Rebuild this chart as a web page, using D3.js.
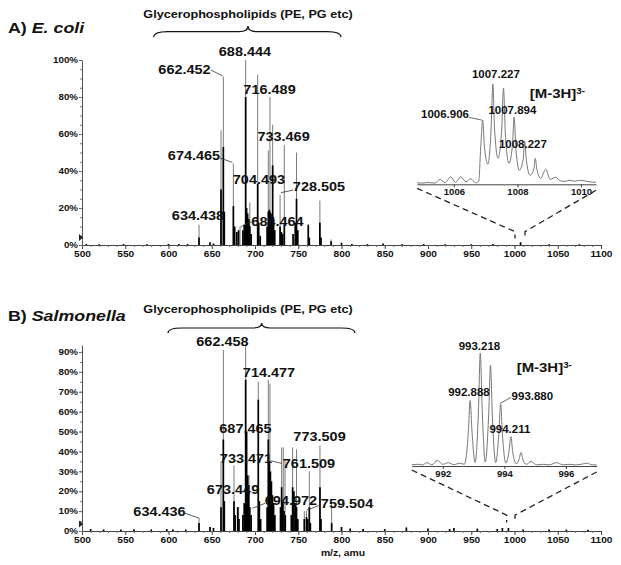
<!DOCTYPE html>
<html><head><meta charset="utf-8">
<script src="https://cdn.jsdelivr.net/npm/d3@7"></script>
<style>
body{margin:0;background:#fff}
svg{display:block}
text{font-family:"Liberation Sans",Arial,sans-serif;font-weight:bold;fill:#111}
</style>
</head><body><svg id="c" width="621" height="565"></svg>
<script>
// ---------------- DATA ----------------
const xTicks = [500,550,600,650,700,750,800,850,900,950,1000,1050,1100];
const yTicksA = [0,20,40,60,80,100];
const yTicksB = [0,10,20,30,40,50,60,70,80,90];
const groupLabel = "Glycerophospholipids (PE, PG etc)";
const chargeLabel = "[M-3H]";
const chargeSup = "3-";
const xAxisTitle = "m/z, amu";

// Panel A  (E. coli) — [m/z, relative intensity %]
const greyA = [[635.3,11],[660.7,62],[663.4,91],[675,44],[682.7,10],[689.2,100],[694,23],[703.1,92],[715.4,51],[717.3,80],[720.4,65],[729,27],[733.9,54],[748,50],[761.6,10],[775,24],[788,3]];
const blackA = [[635.3,4],[648,1.5],[660.7,30],[663.4,53],[664.5,18],[675,21],[676.5,10],[679,7],[681,8],[686,8],[687.5,11],[689.2,80],[690.3,20],[691.5,17],[692.8,14],[694,10],[695.5,6],[703.1,33],[704.3,12],[706,5],[714,10],[715.4,18],[716.5,19],[717.3,18],[718.5,17],[719.5,15],[720.4,43],[721.5,14],[722.8,8],[729,10],[730.5,7],[732,6],[733.9,11],[744,6],[746.5,12],[748,25],[749.5,8],[761.6,11],[762.8,4],[775,12],[776.3,4],[788,2]];
const noiseA = [[505,0.5],[520,0.4],[548,0.5],[575,0.4],[600,0.6],[612,0.5],[622,0.5],[652,0.8],[800,1.2],[812,0.6],[830,0.5],[848,0.8],[870,0.4],[895,0.5],[920,0.4],[950,0.4],[975,0.5],[1007,1.5],[1040,0.4],[1075,0.4]];
// labels: text, anchor [m/z, %], optional leader
const labelsA = [
  {t:"688.444", mz:688.4, p:104.3},
  {t:"662.452", mz:618.5, p:94.6, lead:[[648.8,94.6],[662.6,91.4]]},
  {t:"716.489", mz:716.8, p:83.8},
  {t:"733.469", mz:733.0, p:58.4},
  {t:"674.465", mz:629.5, p:48.6, lead:[[659.5,47],[673.8,44.7]]},
  {t:"704.493", mz:704.6, p:35.1},
  {t:"728.505", mz:774.0, p:31.4, lead:[[730.1,28.3],[744.3,29.7]]},
  {t:"634.438", mz:634.1, p:15.7},
  {t:"684.464", mz:726.0, p:12.4, lead:[[683.5,9.9],[696.2,12.6]]}
];
const braceA = {from:583, mid:691.9, to:799.4};
const zoomA = {from:1000.6, to:1012.1};

// Inset A — isotope cluster profile [m/z, relative %]
const insetA = [[1004.84,1.5],[1005.0,1.2],[1005.2,1.8],[1005.4,1.2],[1005.57,5],[1005.72,1.5],[1005.9,7.5],[1006.05,2],[1006.22,7.5],[1006.38,2.5],[1006.53,5.5],[1006.68,1.5],[1006.78,3],[1006.85,40],[1006.906,64],[1006.96,38],[1007.07,20],[1007.17,55],[1007.227,100],[1007.28,55],[1007.39,26],[1007.5,52],[1007.56,96],[1007.62,50],[1007.73,21],[1007.84,38],[1007.894,67],[1007.95,36],[1008.06,14],[1008.18,25],[1008.227,43],[1008.28,24],[1008.4,9],[1008.52,16],[1008.56,26],[1008.61,15],[1008.73,6],[1008.89,15],[1009.03,5],[1009.2,7],[1009.35,3.5],[1009.5,3],[1009.65,4],[1009.8,3],[1009.95,4],[1010.1,3.5],[1010.25,2.5],[1010.47,2]];
const insetTicksA = [1006,1008,1010];
const insetLabelsA = [
  {t:"1007.227", mz:1007.32, p:109},
  {t:"1006.906", mz:1005.72, p:70, lead:[[1006.475,66.7],[1006.88,64]]},
  {t:"1007.894", mz:1007.84, p:74},
  {t:"1008.227", mz:1008.17, p:40}
];

// Panel B  (Salmonella)
const greyB = [[635.3,6.4],[648,2],[660.7,35],[663.4,91],[675.7,33],[681,12],[689.2,93],[693,28],[703.8,75],[715.4,76],[717.3,74],[730.8,42],[732.7,42],[734.7,36],[743.5,42],[748,41],[757,10],[759.5,10],[762.8,30],[775.1,43],[788.6,14]];
const blackB = [[635.3,4],[648,2],[660.7,12],[663.4,46],[664.5,15],[675.7,15],[677,8],[680,12],[681.5,6],[686,8],[687.5,14],[689.2,76],[690.3,50],[691.5,28],[692.8,20],[694,12],[695.5,8],[703.8,66],[705,15],[706.5,6],[714,12],[715.4,46],[716.5,35],[717.8,30],[719,25],[720.2,18],[721.5,14],[723,8],[729.5,12],[730.8,22],[732.2,15],[733.5,10],[735,8],[742,8],[743.5,22],[745,20],[746.5,14],[748,12],[749.5,6],[757,6],[759.5,7],[761,6],[762.8,12],[764,4],[775.1,22],[776.3,6],[788.6,4]];
const noiseB = [[510,1],[525,0.8],[545,0.7],[560,0.9],[580,0.8],[598,1],[605,0.8],[620,0.7],[652,1.5],[800,2],[810,1.2],[825,1],[850,1],[875,1.8],[900,1.2],[925,1],[930,1.5],[957,1.2],[980,1],[986,1.5],[993,1.5],[1010,0.8],[1040,0.8],[1060,0.7],[1085,0.6]];
const labelsB = [
  {t:"662.458", mz:662.4, p:95.2},
  {t:"714.477", mz:716.2, p:79.6},
  {t:"687.465", mz:689.0, p:51.6},
  {t:"773.509", mz:774.6, p:47.4},
  {t:"733.471", mz:689.6, p:36.5},
  {t:"761.509", mz:762.4, p:33.7, lead:[[718.2,35.3],[730.9,34]]},
  {t:"673.449", mz:674.6, p:20.6},
  {t:"694.972", mz:741.6, p:15.1, lead:[[696.9,11.4],[711.6,13.9]]},
  {t:"759.504", mz:806.4, p:13.9, lead:[[759.8,10.5],[776.5,13.2]]},
  {t:"634.436", mz:589.6, p:9.7, lead:[[619.1,8.9],[635.6,6.4]]}
];
const braceB = {from:599.4, mid:707.7, to:815.6};
const zoomB = {from:990.9, to:1000.6};

const insetB = [[990.99,1],[991.2,1.5],[991.35,1],[991.48,3],[991.65,1],[991.82,5],[992.0,1.5],[992.18,3],[992.36,1],[992.54,2.5],[992.7,1.5],[992.83,30],[992.888,58],[992.95,30],[993.05,3],[993.16,50],[993.218,100],[993.28,50],[993.38,3.5],[993.49,45],[993.55,89],[993.61,44],[993.72,3],[993.82,28],[993.88,55],[993.94,27],[994.05,2.5],[994.15,13],[994.211,26],[994.27,13],[994.38,2],[994.48,6],[994.54,12],[994.6,6],[994.71,1.5],[994.87,4],[995.05,1],[995.25,1.5],[995.45,1],[995.7,3],[995.9,1],[996.1,1.5],[996.3,1],[996.5,1.5],[996.7,2.5],[996.85,1],[997.0,1]];
const insetTicksB = [992,994,996];
const insetLabelsB = [
  {t:"993.218", mz:993.19, p:106},
  {t:"992.888", mz:992.85, p:64.9},
  {t:"993.880", mz:994.91, p:61.3, lead:[[993.87,55.5],[994.22,60.8]]},
  {t:"994.211", mz:994.18, p:32.5}
];

// ---------------- DRAW ----------------
const SX = 1.15; // horizontal stretch of type in the original
const svg = d3.select("#c");

function txt(g, x, y, s, size, anchor){
  return g.append("text")
    .attr("transform", `translate(${x},${y}) scale(${SX},1)`)
    .attr("text-anchor", anchor||"middle")
    .attr("dy","0.35em")
    .style("font-size", size+"px")
    .text(s);
}
function stretchAxisText(g){
  g.selectAll("text").each(function(){
    const t=d3.select(this);
    const x=+t.attr("x")||0, y=+t.attr("y")||0;
    t.attr("x",0).attr("y",0).attr("transform",`translate(${x},${y}) scale(${SX},1)`);
  });
}
function brace(g, x1, xm, x2, yb, yt){
  const yh = yt + (yb-yt)*0.5;
  const p = `M${x1},${yb} Q${x1},${yh} ${x1+14},${yh} L${xm-9},${yh} Q${xm},${yh} ${xm},${yt} Q${xm},${yh} ${xm+9},${yh} L${x2-14},${yh} Q${x2},${yh} ${x2},${yb}`;
  g.append("path").attr("d",p).attr("fill","none").attr("stroke","#111").attr("stroke-width",1.2);
}

function panel(cfg){
  const g = svg.append("g");
  const x = d3.scaleLinear().domain([500,1100]).range([82,601]);
  const y = d3.scaleLinear().domain(cfg.yDomain).range(cfg.yRange);

  // spectrum sticks
  g.append("g").selectAll("line").data(cfg.grey).join("line")
    .attr("x1",d=>x(d[0])).attr("x2",d=>x(d[0]))
    .attr("y1",y(0)).attr("y2",d=>y(d[1]))
    .attr("stroke","#7a7a7a").attr("stroke-width",1);
  g.append("g").selectAll("line").data(cfg.black.concat(cfg.noise)).join("line")
    .attr("x1",d=>x(d[0])).attr("x2",d=>x(d[0]))
    .attr("y1",y(0)).attr("y2",d=>y(d[1]))
    .attr("stroke","#000").attr("stroke-width",1.7);

  // axes
  const ya = g.append("g").attr("transform","translate(82,0)")
    .call(d3.axisLeft(y).tickValues(cfg.yTicks).tickFormat(d=>d+"%").tickSize(3).tickPadding(1).tickSizeOuter(0));
  ya.select(".domain").attr("stroke","#555");
  ya.selectAll(".tick line").attr("stroke","#555");
  ya.selectAll("text").style("font-size","8.5px").style("font-family",null).attr("fill","#111");
  stretchAxisText(ya);
  g.append("g").attr("transform","translate(82,0)")
    .call(d3.axisLeft(y).tickValues(d3.range(0,cfg.yDomain[1],cfg.yMinor)).tickFormat("").tickSize(2).tickSizeOuter(0))
    .call(s=>s.select(".domain").remove()).selectAll("line").attr("stroke","#777");

  const xa = g.append("g").attr("transform",`translate(0,${y(0)})`)
    .call(d3.axisBottom(x).tickValues(xTicks).tickFormat(d3.format("d")).tickSize(4).tickPadding(2).tickSizeOuter(0));
  xa.select(".domain").attr("stroke","#444");
  xa.selectAll(".tick line").attr("stroke","#444");
  xa.selectAll("text").style("font-size","8.8px").style("font-family",null).attr("fill","#111");
  stretchAxisText(xa);
  g.append("g").attr("transform",`translate(0,${y(0)})`)
    .call(d3.axisBottom(x).tickValues(d3.range(500,1100,10)).tickFormat("").tickSize(2).tickSizeOuter(0))
    .call(s=>s.select(".domain").remove()).selectAll("line").attr("stroke","#666");

  // baseline marker triangle
  const ym = y(cfg.marker);
  g.append("path").attr("d",`M79,${ym-3.5} L83,${ym} L79,${ym+3.5} Z`).attr("fill","#222");

  // labels
  cfg.labels.forEach(l=>{
    if(l.lead) g.append("line")
      .attr("x1",x(l.lead[0][0])).attr("y1",y(l.lead[0][1]))
      .attr("x2",x(l.lead[1][0])).attr("y2",y(l.lead[1][1]))
      .attr("stroke","#333").attr("stroke-width",0.8);
  });
  cfg.labels.forEach(l=>txt(g, x(l.mz), y(l.p), l.t, 12.6, "middle"));

  // title
  const tt = g.append("text").attr("transform",`translate(8,${cfg.titleY}) scale(${SX},1)`)
    .attr("dy","0.35em").style("font-size","15.5px");
  tt.append("tspan").text(cfg.titleA);
  tt.append("tspan").style("font-style","italic").text(cfg.titleB);

  // group label + brace
  txt(g, x(691.9), cfg.groupY, groupLabel, 11, "middle");
  brace(g, x(cfg.brace.from), x(cfg.brace.mid), x(cfg.brace.to), cfg.braceY[0], cfg.braceY[1]);

  // inset
  const xi = d3.scaleLinear().domain(cfg.inset.xDomain).range(cfg.inset.xRange);
  const yi = d3.scaleLinear().domain([0,100]).range(cfg.inset.yRange);
  g.append("path").datum(cfg.inset.data)
    .attr("d", d3.line().x(d=>xi(d[0])).y(d=>yi(d[1])).curve(d3.curveMonotoneX))
    .attr("fill","none").attr("stroke","#777").attr("stroke-width",1);
  const ia = g.append("g").attr("transform",`translate(0,${yi(0)})`)
    .call(d3.axisBottom(xi).tickValues(cfg.inset.ticks).tickFormat(d3.format("d")).tickSize(3).tickPadding(2).tickSizeOuter(0));
  ia.select(".domain").attr("stroke","#444");
  ia.selectAll(".tick line").attr("stroke","#444");
  ia.selectAll("text").style("font-size","8.3px").style("font-family",null).attr("fill","#111");
  stretchAxisText(ia);
  cfg.inset.labels.forEach(l=>{
    if(l.lead) g.append("line")
      .attr("x1",xi(l.lead[0][0])).attr("y1",yi(l.lead[0][1]))
      .attr("x2",xi(l.lead[1][0])).attr("y2",yi(l.lead[1][1]))
      .attr("stroke","#444").attr("stroke-width",0.8);
    txt(g, xi(l.mz), yi(l.p), l.t, 10, "middle");
  });
  const ct = g.append("text").attr("transform",`translate(${xi(cfg.inset.charge[0])},${yi(cfg.inset.charge[1])}) scale(${SX},1)`)
    .attr("dy","0.35em").style("font-size","13px");
  ct.append("tspan").text(chargeLabel);
  ct.append("tspan").attr("dy","-0.45em").style("font-size","8.5px").text(chargeSup);

  // zoom connector (dashed)
  const d0 = xi.domain();
  const zTop = y(cfg.zoom.top), zBot = y(cfg.zoom.bottom);
  const dash = g.append("g").attr("fill","none").attr("stroke","#222").attr("stroke-width",1.3).attr("stroke-dasharray","6,4");
  dash.append("path").attr("d",`M${xi(d0[0])},${yi(0)+4} L${x(cfg.zoom.from)},${zTop} L${x(cfg.zoom.from)},${zBot}`);
  dash.append("path").attr("d",`M${xi(d0[1])},${yi(0)+6} L${x(cfg.zoom.to)},${zTop} L${x(cfg.zoom.to)},${zBot}`);
  return {g,x,y};
}

panel({
  yDomain:[0,100], yRange:[245,60], yTicks:yTicksA, yMinor:5,
  grey:greyA, black:blackA, noise:noiseA, labels:labelsA, marker:4,
  titleA:"A) ", titleB:"E. coli", titleY:28, groupY:14, brace:braceA, braceY:[37.3,26],
  inset:{xDomain:[1004.84,1010.47], xRange:[417,596], yRange:[184.3,84], data:insetA, ticks:insetTicksA, labels:insetLabelsA, charge:[1008.39,91]},
  zoom:{from:zoomA.from, to:zoomA.to, top:7.2, bottom:3.5}
});

panel({
  yDomain:[0,93.5], yRange:[531,345], yTicks:yTicksB, yMinor:5,
  grey:greyB, black:blackB, noise:noiseB, labels:labelsB, marker:3.5,
  titleA:"B) ", titleB:"Salmonella", titleY:315.7, groupY:309.3, brace:braceB, braceY:[333,323],
  inset:{xDomain:[990.99,997.0], xRange:[411.7,596.7], yRange:[466,353], data:insetB, ticks:insetTicksB, labels:insetLabelsB, charge:[994.4,87.3]},
  zoom:{from:zoomB.from, to:zoomB.to, top:8, bottom:4.3}
});
txt(svg, 343, 552.7, xAxisTitle, 9, "middle");
</script></body></html>
